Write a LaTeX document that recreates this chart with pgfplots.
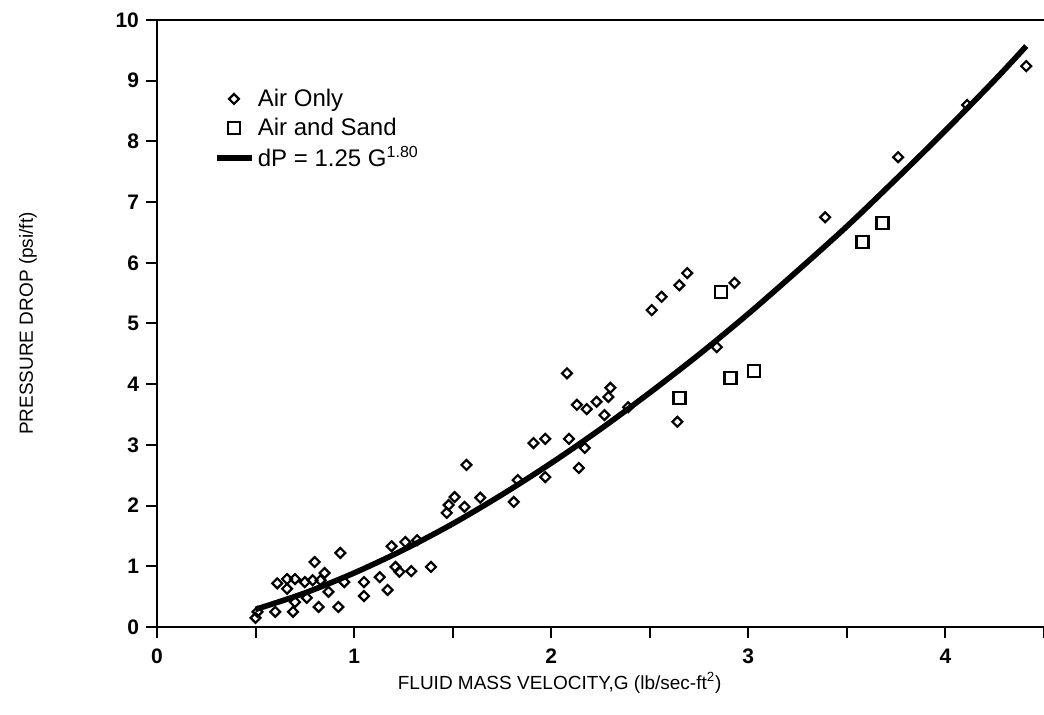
\documentclass[border=0pt]{standalone}
\usepackage{pgfplots}
\pgfplotsset{compat=1.18}
\usepackage{fontspec}
\setmainfont{Liberation Sans}
\begin{document}
\begin{tikzpicture}
\useasboundingbox (-78.5pt,-44pt) rectangle (443.5pt,313.5pt);
\begin{axis}[
  at={(0,0)}, anchor=south west,
  scale only axis, width=443.5pt, height=303.5pt,
  xmin=0, xmax=4.5, ymin=0, ymax=10,
  axis line style={draw=none},
  xtick={0,1,2,3,4}, minor xtick={0.5,1.5,2.5,3.5,4.5},
  ytick={0,1,...,10},
  xtick pos=bottom, ytick pos=left,
  tick align=outside,
  major tick length=5.5pt, minor tick length=5.5pt,
  every tick/.style={black, line width=1pt},
  minor tick style={black, line width=1pt},
  /pgf/number format/assume math mode=true,
  ticklabel style={font=\bfseries\fontsize{10.5}{12}\selectfont},
  xticklabel style={yshift=-2pt},
  every axis x label/.style={at={(axis description cs:0.454,-0.0923)}, anchor=center},
  every axis y label/.style={at={(axis description cs:-0.1454,0.5)}, rotate=90, anchor=center},
  label style={font=\fontsize{9.5}{11}\selectfont},
  xlabel={FLUID MASS VELOCITY,G (lb/sec-ft\textsuperscript{2})},
  ylabel={PRESSURE DROP (psi/ft)},
  clip=false,
  legend style={draw=none, fill=none, at={(axis description cs:0.064,0.894)}, anchor=north west,
    font=\fontsize{12}{13}\selectfont, row sep=0.3pt, inner sep=0pt},
  legend cell align=left,
]
\addplot[only marks, mark=square, mark size=1.75pt, mark options={rotate=45, line width=1.1pt, black}] coordinates {
(0.50,0.15) (0.51,0.25) (0.60,0.25) (0.61,0.72) (0.66,0.79) (0.66,0.63) (0.70,0.79)
(0.69,0.25) (0.70,0.41) (0.75,0.74) (0.76,0.48) (0.79,0.77) (0.80,1.07) (0.82,0.33)
(0.83,0.77) (0.85,0.89) (0.87,0.58) (0.92,0.33) (0.93,1.22) (0.95,0.74) (1.05,0.74)
(1.05,0.51) (1.13,0.82) (1.17,0.61) (1.19,1.33) (1.21,0.99) (1.23,0.91) (1.29,0.92)
(1.26,1.40) (1.32,1.43) (1.39,0.99) (1.47,1.88) (1.48,2.01) (1.51,2.14) (1.57,2.67)
(1.56,1.98) (1.64,2.13) (1.81,2.06) (1.83,2.42) (1.91,3.03) (1.97,3.10) (1.97,2.47)
(2.09,3.10) (2.08,4.18) (2.13,3.66) (2.18,3.59) (2.14,2.62) (2.17,2.95) (2.23,3.71)
(2.27,3.49) (2.29,3.79) (2.30,3.94) (2.39,3.62) (2.51,5.22) (2.56,5.44) (2.65,5.63)
(2.69,5.83) (2.93,5.67) (2.84,4.61) (2.64,3.38) (3.39,6.75) (3.76,7.74) (4.11,8.60)
(4.41,9.24)
};
\addlegendentry{Air Only}
\addplot[only marks, mark=square, mark size=3pt, mark options={line width=1.2pt, black}] coordinates {
(2.65,3.77) (2.86,5.52) (2.91,4.10) (3.03,4.22) (3.58,6.34) (3.68,6.66)
};
\addlegendentry{Air and Sand}
\addplot[black, line width=2.8pt, smooth, no marks] coordinates {
(0.50,0.29) (0.75,0.56) (1.00,0.89) (1.25,1.27) (1.50,1.70) (1.75,2.18) (2.00,2.70)
(2.25,3.26) (2.50,3.86) (2.75,4.49) (3.00,5.16) (3.25,5.87) (3.50,6.60) (3.75,7.38)
(4.00,8.18) (4.25,9.01) (4.41,9.57)
};
\addlegendentry{dP = 1.25 G\textsuperscript{1.80}}
\draw[line width=1.2pt] (rel axis cs:0,1) -- (rel axis cs:0,0) -- (rel axis cs:1,0);
\draw[line width=1.3pt] (rel axis cs:0,1) -- (rel axis cs:1,1);
\end{axis}
\end{tikzpicture}
\end{document}
